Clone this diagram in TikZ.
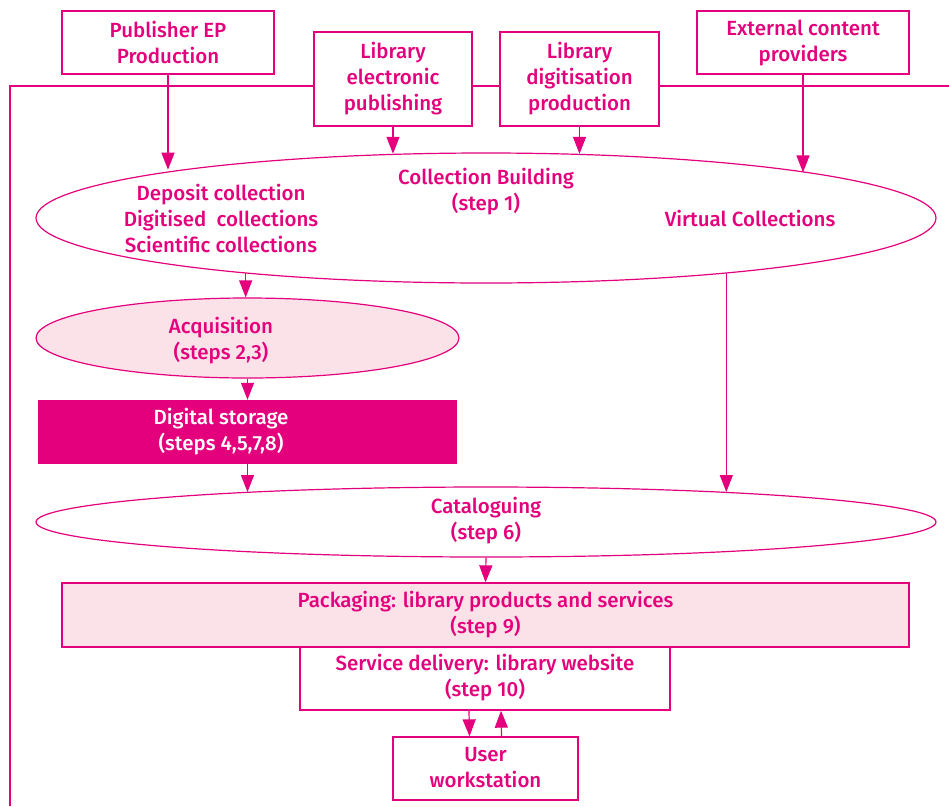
\documentclass[tikz,border=0pt]{standalone}
\usepackage{fontspec}
\setmainfont{Fira Sans Medium}
\usetikzlibrary{shapes.geometric,arrows.meta}
\definecolor{mag}{RGB}{228,0,124}
\definecolor{pinkfill}{RGB}{251,226,233}
\begin{document}
\begin{tikzpicture}[x=1pt,y=-1pt,
  every node/.style={font=\fontsize{20.5}{26}\selectfont, text=mag, align=center, inner sep=0pt},
  box/.style={draw=mag, line width=1.3pt, fill=white, rectangle},
  oval/.style={draw=mag, line width=1.2pt, fill=white, ellipse},
  wire/.style={draw=mag, line width=1.2pt},
  arr/.style={wire, -{Triangle[length=17pt,width=13pt]}}]
\useasboundingbox (0,0) rectangle (949,806);

% rail running behind the source boxes and down the left side
\coordinate (rail-w) at (10,86);
\coordinate (rail-e) at (949,86);
\coordinate (rail-s) at (10,806);
\draw[wire] (rail-e) -- (rail-w) -- (rail-s);

% content sources
\node[box, minimum width=212pt, minimum height=63pt] (pub) at (168,42.5) {Publisher EP\\Production};
\node[box, minimum width=158pt, minimum height=94pt] (lep) at (393,79) {Library\\electronic\\publishing};
\node[box, minimum width=159pt, minimum height=94pt] (ldp) at (579.5,79) {Library\\digitisation\\production};
\node[box, minimum width=212pt, minimum height=63pt] (ext) at (803,42.5) {External content\\providers};

% collection building
\node[oval, minimum width=900pt, minimum height=130pt] (cb) at (486,218) {};
\node (cbtitle) at (486,192) {Collection Building\\(step 1)};
\node (cbleft) at (221,218.5) {Deposit collection\\Digitised\ \ collections\\Scientific collections};
\node (cbright) at (750,218.5) {Virtual Collections};

% acquisition and storage
\node[oval, fill=pinkfill, minimum width=423pt, minimum height=80pt] (acq) at (247.5,338) {};
\node (acqtxt) at (221,340.5) {Acquisition\\(steps 2,3)};
\node[rectangle, fill=mag, minimum width=419pt, minimum height=64pt] (ds) at (247.5,432) {};
\node[text=white] (dstxt) at (221,432) {Digital storage\\(steps 4,5,7,8)};

% cataloguing
\node[oval, minimum width=900pt, minimum height=70pt] (cat) at (486,522) {};
\node (cattxt) at (486,521) {Cataloguing\\(step 6)};

% packaging, delivery, user
\node[box, fill=pinkfill, minimum width=847pt, minimum height=64pt] (pack) at (485.5,615) {};
\node (packtxt) at (485.5,615) {Packaging: library products and services\\(step 9)};
\node[box, minimum width=370pt, minimum height=63pt] (sd) at (485,678.5) {};
\node (sdtxt) at (485,678) {Service delivery: library website\\(step 10)};
\node[box, minimum width=185pt, minimum height=63pt] (uw) at (485.5,768.5) {};
\node (uwtxt) at (485.5,768) {User\\workstation};

% connectors
\draw[arr] (pub.south) -- (pub.south |- cb.171.8);
\draw[arr] (lep.south) -- (lep.south |- cb.145.6);
\draw[arr] (ldp.south) -- (ldp.south |- cb.34.3);
\draw[arr] (ext.south) -- (ext.south |- cb.8.2);
\draw[arr] (cb.193) -- (cb.193 |- acq.north);
\draw[arr] (acq.south) -- (ds.north);
\draw[arr] (ds.south) -- (ds.south |- cat.173);
\draw[arr] (cb.-13) -- (cb.-13 |- cat.7);
\draw[arr] (cat.south) -- (pack.north);
\draw[arr] ([xshift=-16pt]sd.south) -- ([xshift=-16pt]uw.north);
\draw[arr] ([xshift=16pt]uw.north) -- ([xshift=16pt]sd.south);
\end{tikzpicture}
\end{document}
